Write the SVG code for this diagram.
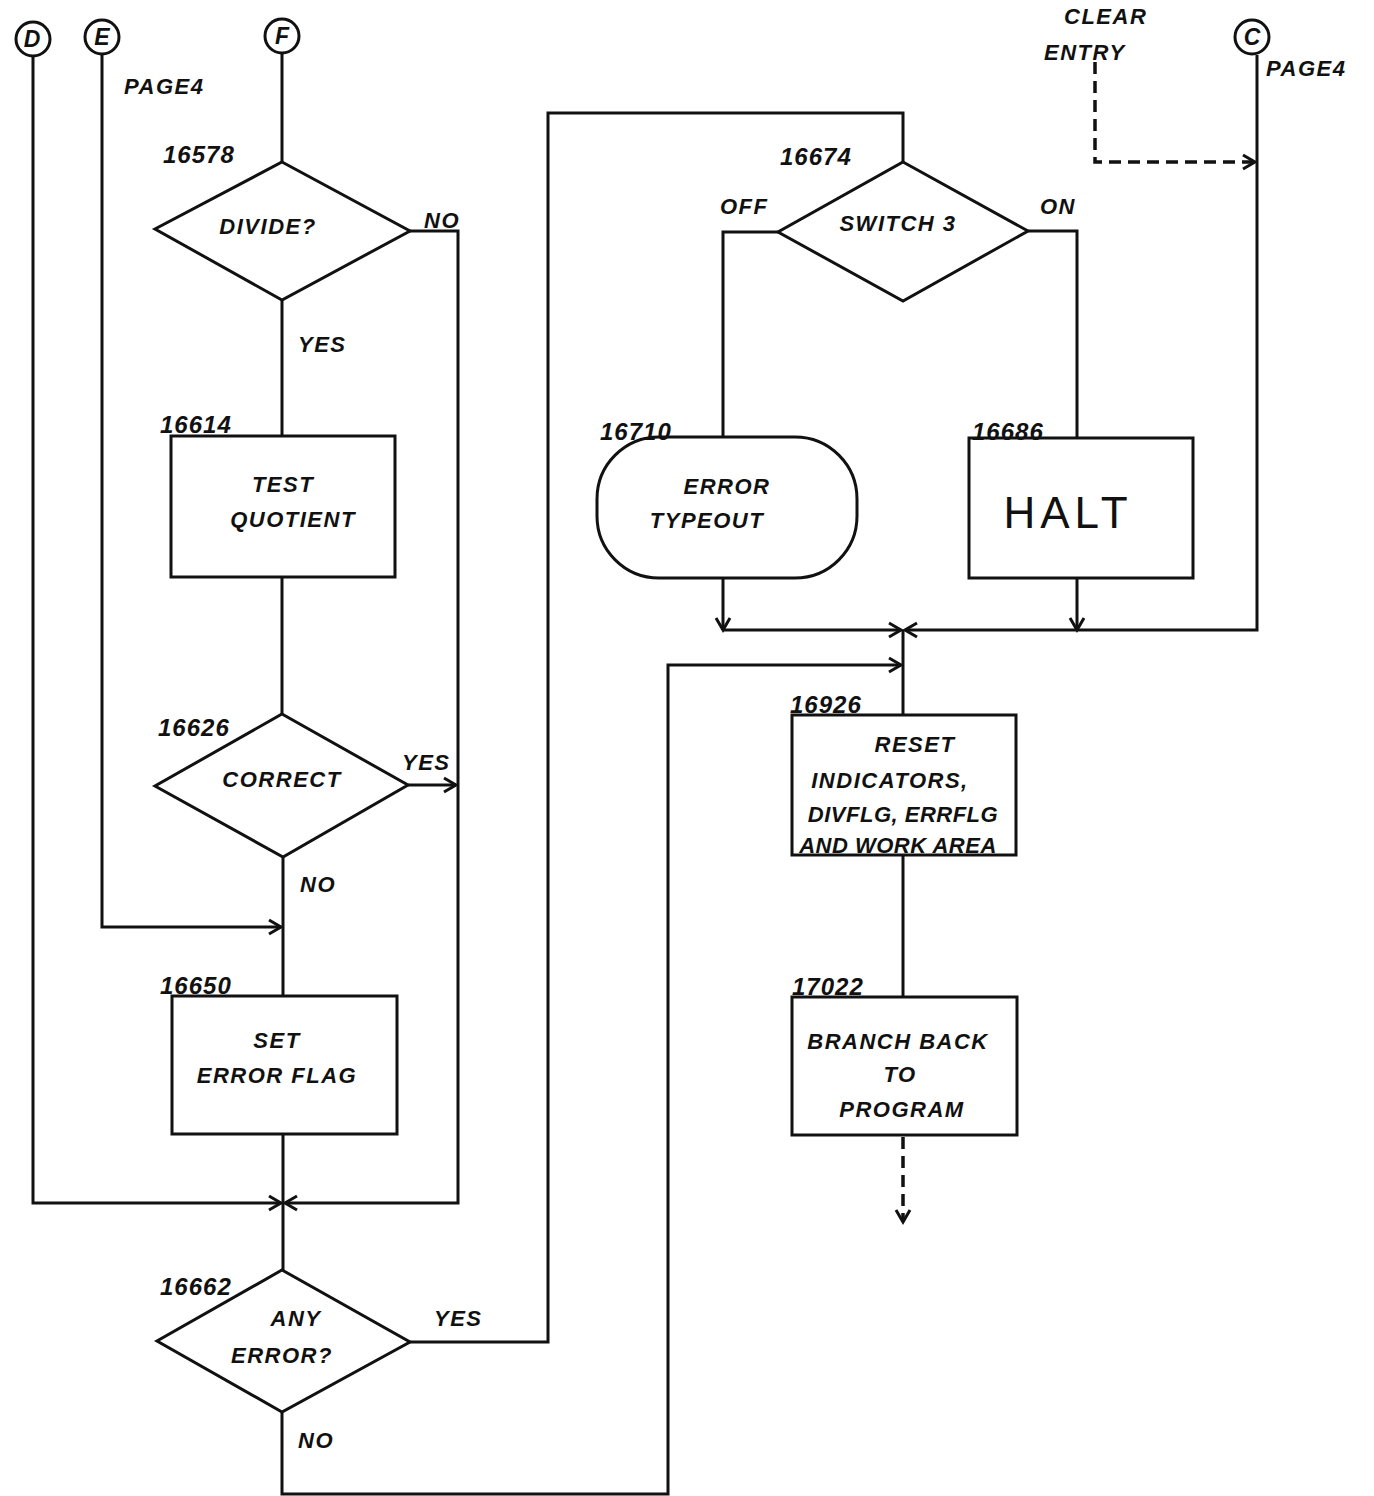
<svg xmlns="http://www.w3.org/2000/svg" width="1374" height="1496" viewBox="0 0 1374 1496">
<style>
.bg{fill:#ffffff}
.shape{fill:none;stroke:#111;stroke-width:3}
.line{fill:none;stroke:#111;stroke-width:3}
.dash{fill:none;stroke:#111;stroke-width:3.5;stroke-dasharray:12 7}
text{font-family:"Liberation Sans",Arial,sans-serif;font-style:italic;font-weight:bold;fill:#111;font-size:22px;letter-spacing:1.5px}
.lbl{font-size:24px;letter-spacing:1px}
.mid{text-anchor:middle}
.halt{font-style:normal;font-weight:normal;font-size:44px;letter-spacing:5px}
.circ{font-size:23px;letter-spacing:0}
.tight{letter-spacing:0.5px}
</style>
<defs>
<marker id="arr" markerUnits="userSpaceOnUse" markerWidth="30" markerHeight="30" viewBox="-15 -15 30 30" refX="0" refY="0" orient="auto">
<path d="M-12,-7 L0,0 L-12,7" fill="none" stroke="#111" stroke-width="3"/>
</marker>
</defs>
<rect class="bg" x="0" y="0" width="1374" height="1496"/>

<g id="connectors">
<path class="line" d="M33,56 V1203 H281" marker-end="url(#arr)"/>
<path class="line" d="M102,55 V927 H281" marker-end="url(#arr)"/>
<path class="line" d="M282,54 V162"/>
<path class="line" d="M410,231 H458 V1203 H285" marker-end="url(#arr)"/>
<path class="line" d="M282,300 V436"/>
<path class="line" d="M282,577 V714"/>
<path class="line" d="M408,785 H456" marker-end="url(#arr)"/>
<path class="line" d="M283,857 V996"/>
<path class="line" d="M283,1134 V1270"/>
<path class="line" d="M410,1342 H548 V113 H903 V162"/>
<path class="line" d="M282,1412 V1494 H668 V665 H901" marker-end="url(#arr)"/>
<path class="line" d="M778,232 H723 V437"/>
<path class="line" d="M1028,231 H1077 V438"/>
<path class="line" d="M723,578 V630" marker-end="url(#arr)"/>
<path class="line" d="M1077,578 V630" marker-end="url(#arr)"/>
<path class="line" d="M723,630 H901" marker-end="url(#arr)"/>
<path class="line" d="M1257,55 V630 H905" marker-end="url(#arr)"/>
<path class="line" d="M903,630 V715"/>
<path class="line" d="M903,855 V997"/>
<path class="dash" d="M903,1137 V1222" marker-end="url(#arr)"/>
<path class="dash" d="M1095,62 V162 H1255" marker-end="url(#arr)"/>
</g>

<g id="conn-D"><circle class="shape" cx="33" cy="39" r="17"/><text class="circ mid" x="32" y="47">D</text></g>
<g id="conn-E"><circle class="shape" cx="102" cy="37" r="17"/><text class="circ mid" x="102" y="45">E</text></g>
<g id="conn-F"><circle class="shape" cx="282" cy="36" r="17"/><text class="circ mid" x="282" y="44">F</text></g>
<g id="conn-C"><circle class="shape" cx="1252" cy="37" r="17"/><text class="circ mid" x="1252" y="45">C</text></g>
<g id="page4-left"><text x="124" y="94">PAGE4</text></g>
<g id="page4-right"><text x="1266" y="76">PAGE4</text></g>
<g id="clear-entry"><text x="1064" y="24">CLEAR</text><text x="1044" y="60">ENTRY</text></g>

<g id="n16578">
<polygon class="shape" points="282,162 410,231 282,300 155,229"/>
<text class="lbl" x="163" y="163">16578</text>
<text class="mid" x="268" y="234">DIVIDE?</text>
<text x="424" y="228">NO</text>
<text x="298" y="352">YES</text>
</g>

<g id="n16614">
<rect class="shape" x="171" y="436" width="224" height="141"/>
<text class="lbl" x="160" y="433">16614</text>
<text class="mid" x="283" y="492">TEST</text>
<text class="mid" x="293" y="527">QUOTIENT</text>
</g>

<g id="n16626">
<polygon class="shape" points="282,714 408,785 283,857 155,786"/>
<text class="lbl" x="158" y="736">16626</text>
<text class="mid" x="282" y="787">CORRECT</text>
<text x="402" y="770">YES</text>
<text x="300" y="892">NO</text>
</g>

<g id="n16650">
<rect class="shape" x="172" y="996" width="225" height="138"/>
<text class="lbl" x="160" y="994">16650</text>
<text class="mid" x="277" y="1048">SET</text>
<text class="mid" x="277" y="1083">ERROR FLAG</text>
</g>

<g id="n16662">
<polygon class="shape" points="282,1270 410,1342 282,1412 157,1341"/>
<text class="lbl" x="160" y="1295">16662</text>
<text class="mid" x="296" y="1326">ANY</text>
<text class="mid" x="282" y="1363">ERROR?</text>
<text x="434" y="1326">YES</text>
<text x="298" y="1448">NO</text>
</g>

<g id="n16674">
<polygon class="shape" points="903,162 1028,231 903,301 778,232"/>
<text class="lbl" x="780" y="165">16674</text>
<text class="mid" x="898" y="231">SWITCH 3</text>
<text x="720" y="214">OFF</text>
<text x="1040" y="214">ON</text>
</g>

<g id="n16710">
<rect class="shape" x="597" y="437" width="260" height="141" rx="62" ry="62"/>
<text class="lbl" x="600" y="440">16710</text>
<text class="mid" x="727" y="494">ERROR</text>
<text class="mid" x="707" y="528">TYPEOUT</text>
</g>

<g id="n16686">
<rect class="shape" x="969" y="438" width="224" height="140"/>
<text class="lbl" x="972" y="440">16686</text>
<text class="halt mid" x="1068" y="528">HALT</text>
</g>

<g id="n16926">
<rect class="shape" x="792" y="715" width="224" height="140"/>
<text class="lbl" x="790" y="713">16926</text>
<text class="mid" x="915" y="752">RESET</text>
<text class="mid" x="890" y="788">INDICATORS,</text>
<text class="mid tight" x="903" y="822">DIVFLG, ERRFLG</text>
<text class="mid tight" x="898" y="853">AND WORK AREA</text>
</g>

<g id="n17022">
<rect class="shape" x="792" y="997" width="225" height="138"/>
<text class="lbl" x="792" y="995">17022</text>
<text class="mid" x="898" y="1049">BRANCH BACK</text>
<text class="mid" x="900" y="1082">TO</text>
<text class="mid" x="902" y="1117">PROGRAM</text>
</g>
</svg>
